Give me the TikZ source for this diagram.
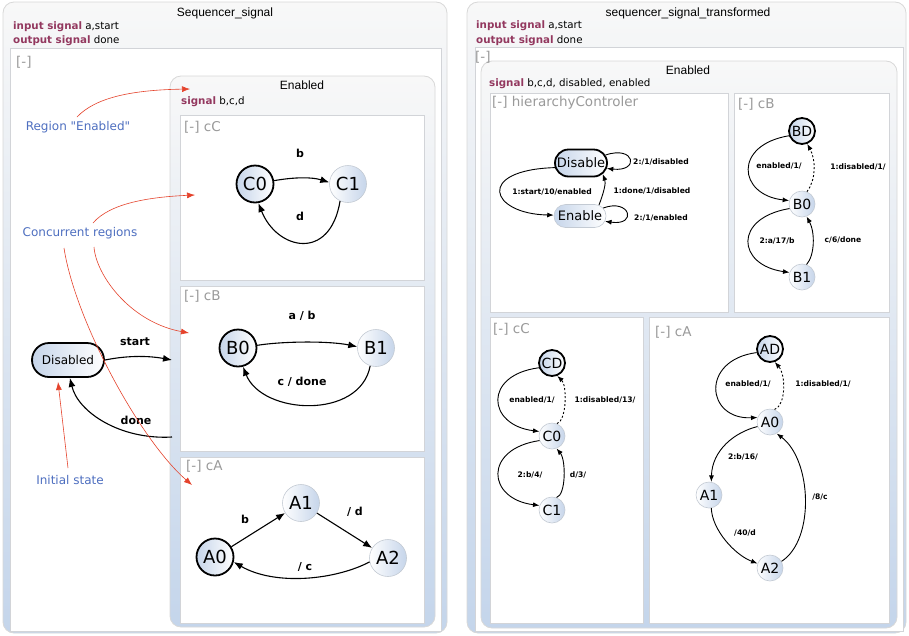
\documentclass[tikz,border=0pt]{standalone}
\usepackage{fontspec}
\setmainfont{DejaVu Sans}
\newfontfamily\titlefont{Liberation Sans}
\newfontfamily\plainfont{DejaVu Sans}[Ligatures=ResetAll]
\usetikzlibrary{arrows.meta,shapes.misc}
\definecolor{kw}{HTML}{93385F}
\definecolor{annotc}{HTML}{4E6FC0}
\definecolor{redc}{HTML}{E5432C}
\definecolor{panelline}{HTML}{D8D8D8}
\definecolor{boxline}{HTML}{D2D4D8}
\definecolor{bluebg}{HTML}{C4D5EB}
\definecolor{graybg}{HTML}{F8F8F8}
\definecolor{stfill}{HTML}{C6D5EA}
\definecolor{stline}{HTML}{C3CAD3}
\definecolor{rlabc}{HTML}{9A9A9A}
\begin{document}
\begin{tikzpicture}[x=1pt,y=-1pt,
  panel/.style={draw=panelline, line width=0.8pt, rounded corners=11pt, top color=graybg, bottom color=bluebg},
  regbox/.style={draw=boxline, line width=0.8pt, fill=white},
  ttl/.style={font=\titlefont\fontsize{12}{14}\selectfont, inner sep=0pt},
  decl/.style={anchor=west, font=\fontsize{10.3}{12}\selectfont, inner sep=0pt},
  rlab/.style={anchor=west, text=rlabc, font=\fontsize{13.5}{15}\selectfont, inner sep=0pt},
  stL/.style={circle, draw=stline, line width=0.6pt, left color=white, right color=stfill, minimum size=37pt, inner sep=0pt, font=\fontsize{18}{18}\selectfont},
  stR/.style={circle, draw=stline, line width=0.6pt, left color=white, right color=stfill, minimum size=26pt, inner sep=0pt, font=\fontsize{14}{14}\selectfont},
  initst/.style={draw=black, line width=1.8pt, left color=stfill, right color=white},
  pillL/.style={rounded rectangle, draw=black, line width=1.8pt, left color=stfill, right color=white, minimum width=72pt, minimum height=34pt, inner sep=0pt, font=\fontsize{12}{12}\selectfont},
  pillR/.style={rounded rectangle, draw=stline, line width=0.6pt, left color=stfill, right color=white, minimum width=52pt, minimum height=23pt, inner sep=0pt, font=\fontsize{13}{13}\selectfont},
  edgeL/.style={draw=black, line width=1.1pt, -{Latex[length=9pt,width=7pt]}},
  edgeR/.style={draw=black, line width=0.9pt, -{Latex[length=6.5pt,width=5pt]}},
  dashedge/.style={edgeR, dash pattern=on 2pt off 2pt},
  elabL/.style={font=\bfseries\fontsize{11}{12}\selectfont, inner sep=0pt},
  elabR/.style={font=\bfseries\fontsize{7.6}{9}\selectfont, inner sep=0pt},
  redarr/.style={draw=redc, line width=0.6pt, -{Latex[length=8pt,width=6pt]}},
  annot/.style={text=annotc, font=\plainfont\fontsize{12}{14}\selectfont, inner sep=0pt}
]
\useasboundingbox (0,0) rectangle (909,635);
\fill[white] (0,0) rectangle (909,635);

% ================= LEFT PANEL =================
\draw[panel] (3,2) rectangle (447,633);
\node[ttl] (tL) at (225,13) {Sequencer\_signal};
\node[decl] (inL) at (13,27) {\textcolor{kw}{\bfseries input signal} a,start};
\node[decl] (outL) at (13,41) {\textcolor{kw}{\bfseries output signal} done};
\draw[regbox] (10,48) rectangle (441,631);
\node[rlab] (rgL) at (16,62) {[-]};
\draw[panel] (170,76) rectangle (435,627);
\node[ttl] (enL) at (302,85) {Enabled};
\node[decl] (sigL) at (181,102) {\textcolor{kw}{\bfseries signal} b,c,d};
\draw[regbox] (180,115) rectangle (424,280);
\draw[regbox] (180,286) rectangle (424,451);
\draw[regbox] (180,457) rectangle (424,623);
\node[rlab] (rcC) at (184,127) {[-] cC};
\node[rlab] (rcB) at (184,296) {[-] cB};
\node[rlab] (rcA) at (186,466) {[-] cA};

% states
\node[stL, initst] (C0) at (255,184) {C0};
\node[stL] (C1) at (348,184) {C1};
\node[stL, initst] (B0) at (238,348) {B0};
\node[stL] (B1) at (376,348) {B1};
\node[stL, initst] (A0) at (215,557) {A0};
\node[stL] (A1) at (301,503) {A1};
\node[stL] (A2) at (388,558) {A2};
\node[pillL] (Dis) at (68,360) {Disabled};
\coordinate (enIn) at (172,360);
\coordinate (enOut) at (172,437);

% edges
\draw[edgeL] (C0.10) .. controls (295,177) and (312,177) .. (C1.175);
\node[elabL] (lb1) at (300,153) {b};
\draw[edgeL] (C1.-115) .. controls (330,262) and (277,250) .. (C0.-80);
\node[elabL] (lb2) at (300,216) {d};
\draw[edgeL] (B0.8) .. controls (285,341) and (330,341) .. (B1.176);
\node[elabL] (lb3) at (302,316) {a / b};
\draw[edgeL] (B1.-108) .. controls (360,420) and (262,415) .. (B0.-75);
\node[elabL] (lb4) at (302,382) {c / done};
\draw[edgeL] (Dis.east) .. controls (130,355) and (150,356) .. (enIn);
\node[elabL] (lb5) at (135,342) {start};
\draw[edgeL] (enOut) .. controls (120,440) and (78,412) .. (Dis.-84);
\node[elabL] (lb6) at (136,420) {done};
\draw[edgeL] (A0) -- (A1);
\node[elabL] (lb7) at (245,519) {b};
\draw[edgeL] (A1) -- (A2);
\node[elabL] (lb8) at (355,512) {/ d};
\draw[edgeL] (A2.-168) .. controls (335,580) and (275,586) .. (A0.-15);
\node[elabL] (lb9) at (305,567) {/ c};

% annotations
\node[annot] (anE) at (78,127) {Region "Enabled"};
\node[annot] (anC) at (80,233) {Concurrent regions};
\node[annot] (anI) at (70,480) {Initial state};
\coordinate (tgE) at (190,89);
\coordinate (tgC) at (195,195);
\coordinate (tgB) at (189,333);
\coordinate (tgA) at (192,485);
\coordinate (tgI) at (58,382);
\draw[redarr] (77,117) .. controls (95,98) and (130,90) .. (tgE);
\draw[redarr] (93,223) .. controls (110,203) and (150,197) .. (tgC);
\draw[redarr] (94,247) .. controls (96,275) and (130,322) .. (tgB);
\draw[redarr] (64,248) .. controls (75,320) and (140,440) .. (tgA);
\draw[redarr] (68,468) -- (tgI);

% ================= RIGHT PANEL =================
\draw[panel] (467,2) rectangle (906,633);
\node[ttl] (tR) at (688,13) {sequencer\_signal\_transformed};
\node[decl] (inR) at (476,26) {\textcolor{kw}{\bfseries input signal} a,start};
\node[decl] (outR) at (476,41) {\textcolor{kw}{\bfseries output signal} done};
\draw[regbox] (475,47) rectangle (903,631);
\draw[panel] (481,61) rectangle (897,628);
\node[rlab] (rgR) at (475,57) {[-]};
\node[ttl] (enR) at (688,70) {Enabled};
\node[decl] (sigR) at (489,84) {\textcolor{kw}{\bfseries signal} b,c,d, disabled, enabled};
\draw[regbox] (490,93) rectangle (728,312);
\draw[regbox] (734,93) rectangle (889,312);
\draw[regbox] (490,317) rectangle (643,623);
\draw[regbox] (649,317) rectangle (889,623);
\node[rlab] (rhc) at (492,103) {[-] hierarchyControler};
\node[rlab] (rcB2) at (738,104) {[-] cB};
\node[rlab] (rcC2) at (493,329) {[-] cC};
\node[rlab] (rcA2) at (655,332) {[-] cA};

% hierarchy controller
\node[pillR, draw=black, line width=1.8pt, minimum height=27pt] (Dsb) at (581,163) {Disable};
\node[pillR] (Enb) at (580,216) {Enable};
\draw[edgeR] (Dsb.18) .. controls (635,145) and (640,172) .. (Dsb.-12);
\node[elabR, anchor=west] (h1) at (633,162) {2:/1/disabled};
\draw[edgeR] (Enb.19) .. controls (630,198) and (638,226) .. (Enb.-12);
\node[elabR, anchor=west] (h2) at (634,218) {2:/1/enabled};
\draw[edgeR] (Dsb.190) .. controls (475,170) and (490,214) .. (Enb.178);
\node[elabR] (h3) at (552,192) {1:start/10/enabled};
\draw[edgeR] (Enb.30) .. controls (604,192) and (606,183) .. (Dsb.-27);
\node[elabR] (h4) at (652,191) {1:done/1/disabled};

% cB
\node[stR, initst] (BD) at (802,131) {BD};
\node[stR] (RB0) at (802,204) {B0};
\node[stR] (RB1) at (802,277) {B1};
\draw[edgeR] (BD.200) .. controls (733,145) and (738,195) .. (RB0.165);
\node[elabR] (b1) at (779,166) {enabled/1/};
\draw[dashedge] (RB0.68) .. controls (816,180) and (816,160) .. (BD.-68);
\node[elabR] (b2) at (858,167) {1:disabled/1/};
\draw[edgeR] (RB0.200) .. controls (733,218) and (737,265) .. (RB1.160);
\node[elabR] (b3) at (777,241) {2:a/17/b};
\draw[edgeR] (RB1.70) .. controls (815,255) and (815,232) .. (RB0.-70);
\node[elabR] (b4) at (843,240) {c/6/done};

% cC
\node[stR, initst] (CD) at (552,363) {CD};
\node[stR] (RC0) at (552,436) {C0};
\node[stR] (RC1) at (552,510) {C1};
\draw[edgeR] (CD.200) .. controls (483,375) and (487,425) .. (RC0.160);
\node[elabR] (c1) at (532,400) {enabled/1/};
\draw[dashedge] (RC0.68) .. controls (567,420) and (567,385) .. (CD.-68);
\node[elabR] (c2) at (605,400) {1:disabled/13/};
\draw[edgeR] (RC0.200) .. controls (483,449) and (487,499) .. (RC1.160);
\node[elabR] (c3) at (530,475) {2:b/4/};
\draw[edgeR] (RC1.70) .. controls (566,495) and (566,460) .. (RC0.-70);
\node[elabR] (c4) at (578,475) {d/3/};

% cA
\node[stR, initst] (AD) at (770,349) {AD};
\node[stR] (RA0) at (770,422) {A0};
\node[stR] (RA1) at (709,495) {A1};
\node[stR] (RA2) at (770,568) {A2};
\draw[edgeR] (AD.195) .. controls (700,360) and (706,420) .. (RA0.160);
\node[elabR] (a1) at (748,384) {enabled/1/};
\draw[dashedge] (RA0.70) .. controls (786,405) and (786,375) .. (AD.-70);
\node[elabR] (a2) at (823,384) {1:disabled/1/};
\draw[edgeR] (RA0.200) .. controls (735,432) and (712,450) .. (RA1.80);
\node[elabR] (a3) at (743,457) {2:b/16/};
\draw[edgeR] (RA1.-80) .. controls (712,530) and (735,555) .. (RA2.160);
\node[elabR] (a4) at (745,533) {/40/d};
\draw[edgeR] (RA2.30) .. controls (815,540) and (812,460) .. (RA0.-60);
\node[elabR] (a5) at (820,497) {/8/c};
\end{tikzpicture}
\end{document}
